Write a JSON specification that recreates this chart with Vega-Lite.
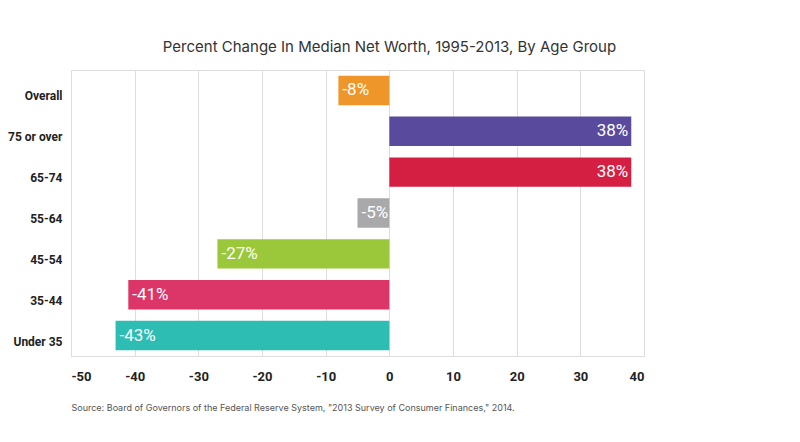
{
  "$schema": "https://vega.github.io/schema/vega-lite/v6.json",
  "width": 573,
  "height": 286,
  "autosize": {"type": "none"},
  "padding": {"left": 71, "top": 70, "right": 156, "bottom": 86},
  "background": "white",
  "title": {
    "text": "Percent Change In Median Net Worth, 1995-2013, By Age Group",
    "anchor": "middle",
    "dx": 32,
    "offset": 15,
    "fontSize": 15,
    "fontWeight": "normal",
    "font": "Inter",
    "color": "#333333"
  },
  "config": {
    "view": {"stroke": "#dddddd", "strokeWidth": 1}
  },
  "data": {
    "values": [
      {"group": "Overall", "change": -8, "label": "-8%"},
      {"group": "75 or over", "change": 38, "label": "38%"},
      {"group": "65-74", "change": 38, "label": "38%"},
      {"group": "55-64", "change": -5, "label": "-5%"},
      {"group": "45-54", "change": -27, "label": "-27%"},
      {"group": "35-44", "change": -41, "label": "-41%"},
      {"group": "Under 35", "change": -43, "label": "-43%"}
    ]
  },
  "encoding": {
    "y": {
      "field": "group",
      "type": "nominal",
      "sort": null,
      "scale": {"paddingInner": 0.28, "paddingOuter": 0.14},
      "axis": {
        "title": null,
        "ticks": false,
        "domain": false,
        "labelFont": "Roboto",
        "labelFontWeight": "bold",
        "labelFontSize": 12,
        "labelColor": "#222222",
        "labelPadding": 9,
        "labelOffset": 6
      }
    },
    "x": {
      "field": "change",
      "type": "quantitative",
      "scale": {"domain": [-50, 40], "nice": false},
      "axis": {
        "values": [-50, -40, -30, -20, -10, 0, 10, 20, 30, 40],
        "labelExpr": "replace(datum.label, '−', '-')",
        "ticks": false,
        "domain": false,
        "grid": true,
        "gridColor": "#dddddd",
        "labelFont": "Roboto",
        "labelFontWeight": "bold",
        "labelFontSize": 13,
        "labelColor": "#222222",
        "labelPadding": 14,
        "title": "Source: Board of Governors of the Federal Reserve System, \"2013 Survey of Consumer Finances,\" 2014.",
        "titleFont": "Inter",
        "titleFontSize": 9,
        "titleFontWeight": "normal",
        "titleColor": "#555555",
        "titleAnchor": "start",
        "titleAlign": "left",
        "titlePadding": 20
      }
    }
  },
  "layer": [
    {
      "mark": {"type": "bar"},
      "encoding": {
        "x2": {"datum": 0},
        "color": {
          "field": "group",
          "type": "nominal",
          "scale": {
            "domain": ["Overall", "75 or over", "65-74", "55-64", "45-54", "35-44", "Under 35"],
            "range": ["#EF962B", "#5A4A9E", "#D41E42", "#A9A9AB", "#9BC83B", "#DC3567", "#2EBDB3"]
          },
          "legend": null
        }
      }
    },
    {
      "transform": [{"filter": "datum.change < 0"}],
      "mark": {
        "type": "text",
        "align": "left",
        "baseline": "middle",
        "dx": 4,
        "color": "white",
        "fontSize": 17,
        "font": "Roboto"
      },
      "encoding": {
        "text": {"field": "label", "type": "nominal"}
      }
    },
    {
      "transform": [{"filter": "datum.change > 0"}],
      "mark": {
        "type": "text",
        "align": "right",
        "baseline": "middle",
        "dx": -3,
        "color": "white",
        "fontSize": 17,
        "font": "Roboto"
      },
      "encoding": {
        "text": {"field": "label", "type": "nominal"}
      }
    }
  ]
}
